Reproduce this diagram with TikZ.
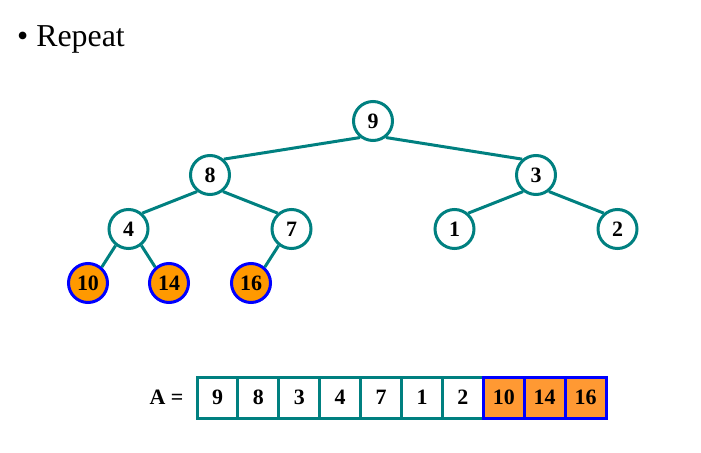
\documentclass[tikz,border=0pt]{standalone}
\usepackage{fontspec}
\setmainfont{Liberation Serif}
\usetikzlibrary{positioning}
\definecolor{heapteal}{RGB}{0,128,128}
\definecolor{heaporange}{RGB}{255,153,0}
\definecolor{cellorange}{RGB}{255,153,51}
\definecolor{heapblue}{RGB}{0,0,255}
\tikzset{
    keynode/.style={circle, draw=heapteal, fill=white, line width=3bp, minimum size=39bp, inner sep=0pt, font=\fontsize{22}{22}\selectfont\bfseries},
    sorted/.style={draw=heapblue, fill=heaporange},
    leftkid/.style={edge from parent path={(\tikzparentnode.232) -- (\tikzchildnode.49)}},
    rightkid/.style={edge from parent path={(\tikzparentnode.308) -- (\tikzchildnode.131)}},
    cell/.style={rectangle, draw=heapteal, fill=white, line width=3bp, minimum width=40.9bp, minimum height=41bp, inner sep=0pt, font=\fontsize{22}{22}\selectfont\bfseries},
    sortedcell/.style={draw=heapblue, fill=cellorange}
}
\begin{document}
\begin{tikzpicture}[x=1bp, y=1bp]
    \useasboundingbox (0,0) rectangle (701,-453);
    \node[anchor=base west, inner sep=0pt, font=\fontsize{32}{32}\selectfont] (title) at (17,-47) {\textbullet\ Repeat};

    % heap after three extractions
    \begin{scope}[level distance=54bp, edge from parent/.style={draw=heapteal, line width=3bp},
        level 1/.style={sibling distance=326bp},
        level 2/.style={sibling distance=163bp},
        level 3/.style={sibling distance=81bp}]
    \node[keynode] (n9) at (373,-121) {9}
        child[leftkid] {node[keynode] (n8) {8}
            child[leftkid] {node[keynode] (n4) {4}
                child[leftkid] {node[keynode, sorted] (n10) {10}}
                child[rightkid] {node[keynode, sorted] (n14) {14}}
            }
            child[rightkid] {node[keynode] (n7) {7}
                child[leftkid] {node[keynode, sorted] (n16) {16}}
                child[missing] {}
            }
        }
        child[rightkid] {node[keynode] (n3) {3}
            child[leftkid] {node[keynode] (n1) {1}}
            child[rightkid] {node[keynode] (n2) {2}}
        };
    \end{scope}

    % array
    \foreach \v [count=\i] in {9,8,3,4,7,1,2}
        \node[cell] (c\i) at (217.5+40.9*\i-40.9,-397.5) {\v};
    \foreach \v [count=\i from 8] in {10,14,16}
        \node[cell, sortedcell] (c\i) at (217.5+40.9*\i-40.9,-397.5) {\v};
    \node[left=12bp of c1, inner sep=0pt, font=\fontsize{22}{22}\selectfont\bfseries] (alabel) {A =};
\end{tikzpicture}
\end{document}
